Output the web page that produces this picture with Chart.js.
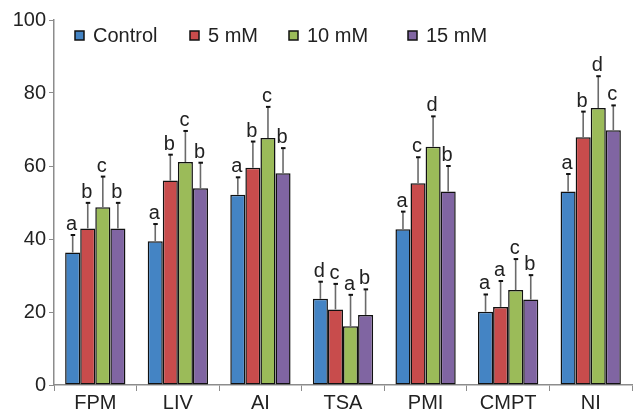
<!DOCTYPE html>
<html>
<head>
<meta charset="utf-8">
<script src="https://cdn.jsdelivr.net/npm/chart.js@4.4.1/dist/chart.umd.min.js"></script>
<style>
body { margin: 0; background: #fff; }
#wrap { width: 636px; height: 410px; }
</style>
</head>
<body>
<div id="wrap"><canvas id="graph1" width="636" height="410"></canvas></div>
<script>
// values
const categories = ['FPM', 'LIV', 'AI', 'TSA', 'PMI', 'CMPT', 'NI'];
const seriesNames = ['Control', '5 mM', '10 mM', '15 mM'];

const control = [36.3, 39.4, 52.1, 23.6, 42.7, 20.1, 53.0];
const mM5 = [42.9, 56.0, 59.5, 20.7, 55.3, 21.4, 67.9];
const mM10 = [48.7, 61.1, 67.7, 16.1, 65.3, 26.0, 75.9];
const mM15 = [42.9, 53.9, 58.0, 19.2, 53.0, 23.4, 69.8];

const errControl = [4.8, 4.7, 4.8, 4.7, 4.8, 4.7, 4.8];
const err5 = [7.0, 7.1, 7.2, 7.0, 7.1, 7.1, 7.0];
const err10 = [8.4, 8.5, 8.5, 8.6, 8.3, 8.5, 8.7];
const err15 = [7.0, 7.0, 6.9, 7.0, 7.0, 6.7, 6.8];

const lettersControl = ['a', 'a', 'a', 'd', 'a', 'a', 'a'];
const letters5 = ['b', 'b', 'b', 'c', 'c', 'a', 'b'];
const letters10 = ['c', 'c', 'c', 'a', 'd', 'c', 'd'];
const letters15 = ['b', 'b', 'b', 'b', 'b', 'b', 'c'];

const yTicks = [0, 20, 40, 60, 80, 100];

const colors = ['#4484c4', '#c84c4c', '#9bbb59', '#8065a2'];
const allValues = [control, mM5, mM10, mM15];
const allErrors = [errControl, err5, err10, err15];
const allLetters = [lettersControl, letters5, letters10, letters15];

const FONT = '"Liberation Sans", Arial, sans-serif';
const axisGray = '#8c8c8c';

// error bars + significance letters
const errorBars = {
    id: 'errorBars',
    afterDatasetsDraw(chart) {
        const ctx = chart.ctx;
        const y = chart.scales.y;
        ctx.save();
        chart.data.datasets.forEach((ds, i) => {
            const meta = chart.getDatasetMeta(i);
            meta.data.forEach((bar, j) => {
                const top = y.getPixelForValue(ds.data[j] + allErrors[i][j]);
                const x = bar.x;
                ctx.strokeStyle = '#6a6a6a';
                ctx.lineWidth = 1.6;
                ctx.beginPath();
                ctx.moveTo(x, bar.y);
                ctx.lineTo(x, top);
                ctx.stroke();
                ctx.strokeStyle = '#111';
                ctx.lineWidth = 2;
                ctx.beginPath();
                ctx.moveTo(x - 2, top);
                ctx.lineTo(x + 2.5, top);
                ctx.stroke();
                ctx.fillStyle = '#222';
                ctx.font = '20px ' + FONT;
                ctx.textAlign = 'center';
                ctx.textBaseline = 'alphabetic';
                ctx.fillText(allLetters[i][j], x - 1, top - 5);
            });
        });
        ctx.restore();
    }
};

// legend inside the plot, at the top
const legendPos = [75, 190, 289, 408];
const topLegend = {
    id: 'topLegend',
    afterDraw(chart) {
        const ctx = chart.ctx;
        ctx.save();
        ctx.font = '20px ' + FONT;
        ctx.textBaseline = 'middle';
        ctx.textAlign = 'left';
        chart.data.datasets.forEach((ds, i) => {
            const x = legendPos[i];
            ctx.fillStyle = ds.backgroundColor;
            ctx.fillRect(x, 31, 9, 9);
            ctx.strokeStyle = '#111';
            ctx.lineWidth = 1.5;
            ctx.strokeRect(x, 31, 9, 9);
            ctx.fillStyle = '#222';
            ctx.fillText(ds.label, x + 18, 36.5);
        });
        ctx.restore();
    }
};

const chart = new Chart(document.getElementById('graph1').getContext('2d'), {
    type: 'bar',
    data: {
        labels: categories,
        datasets: seriesNames.map((name, i) => ({
            label: name,
            data: allValues[i],
            backgroundColor: colors[i],
            borderColor: '#111',
            borderWidth: 1.5,
            borderSkipped: false,
            categoryPercentage: 0.73,
            barPercentage: 1
        }))
    },
    options: {
        responsive: false,
        animation: false,
        events: [],
        layout: { padding: { top: 20, right: 4, left: 0, bottom: 0 } },
        plugins: {
            legend: { display: false },
            tooltip: { enabled: false }
        },
        scales: {
            x: {
                grid: {
                    display: true,
                    drawOnChartArea: false,
                    offset: true,
                    color: axisGray,
                    tickLength: 6
                },
                border: { color: axisGray, width: 1.5 },
                ticks: {
                    color: '#222',
                    font: { family: FONT, size: 20 },
                    padding: 0,
                    maxRotation: 0
                },
                afterFit: (scale) => { scale.height = 25; }
            },
            y: {
                min: 0,
                max: 100,
                afterBuildTicks: (scale) => { scale.ticks = yTicks.map(v => ({ value: v })); },
                grid: {
                    display: true,
                    drawOnChartArea: false,
                    color: axisGray,
                    tickLength: 5
                },
                border: { color: axisGray, width: 1.5 },
                ticks: {
                    color: '#222',
                    font: { family: FONT, size: 20 },
                    padding: 3
                },
                afterFit: (scale) => { scale.width = 54; }
            }
        }
    },
    plugins: [errorBars, topLegend]
});
</script>
</body>
</html>
